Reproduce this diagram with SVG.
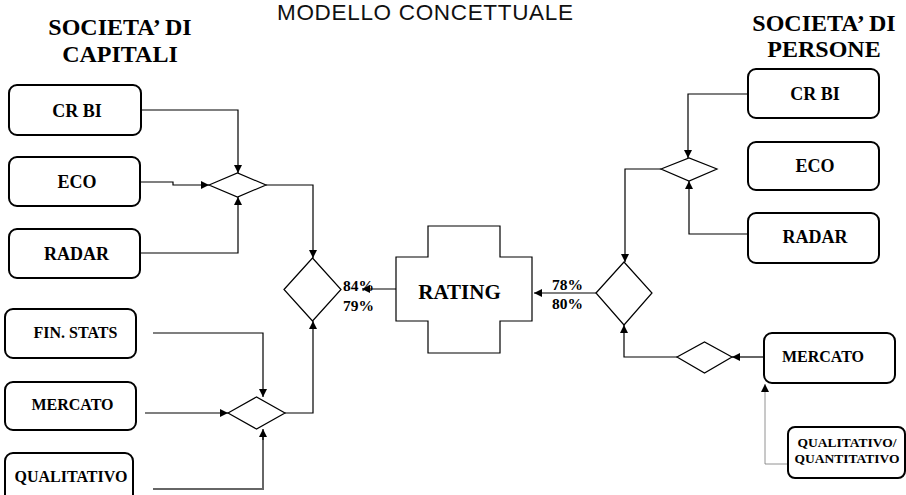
<svg xmlns="http://www.w3.org/2000/svg" width="906" height="495" viewBox="0 0 906 495">
<style>
.box{fill:#fff;stroke:#000;stroke-width:2}
.dia{fill:#fff;stroke:#000;stroke-width:1.2}
.lbl{font-family:"Liberation Serif","Times New Roman",serif;font-weight:bold;text-anchor:middle;fill:#000}
.l18{font-size:18px}
.l16{font-size:16px}
.hdr{font-family:"Liberation Serif","Times New Roman",serif;font-weight:bold;font-size:24px;text-anchor:middle;fill:#000}
.pct{font-family:"Liberation Serif","Times New Roman",serif;font-weight:bold;font-size:15.5px;fill:#000}
.ln{fill:none;stroke:#000;stroke-width:1.2}
.gry{fill:none;stroke:#666;stroke-width:2}
.dot{fill:none;stroke:#777;stroke-width:0.8}
</style>
<defs>
<marker id="ah" viewBox="0 0 10 10" refX="10" refY="5" markerWidth="8" markerHeight="8" markerUnits="userSpaceOnUse" orient="auto">
<path d="M0,0 L10,5 L0,10 Z" fill="#000"/>
</marker>
</defs>
<rect width="906" height="495" fill="#fff"/>

<text x="277" y="20" font-family="'Liberation Sans',Arial,sans-serif" font-size="22.5" textLength="296" lengthAdjust="spacing" fill="#111">MODELLO CONCETTUALE</text>

<g id="hdr-left">
<text class="hdr" x="120" y="35">SOCIETA’ DI</text>
<text class="hdr" x="120" y="62">CAPITALI</text>
</g>
<g id="hdr-right">
<text class="hdr" x="824" y="31" font-size="23.5">SOCIETA’ DI</text>
<text class="hdr" x="824" y="56.5" font-size="23">PERSONE</text>
</g>

<g id="connectors">
<polyline class="ln" points="141,110 238,110 238,173" marker-end="url(#ah)"/>
<polyline class="ln" points="140,182 173,182 173,185 209,185" marker-end="url(#ah)"/>
<polyline class="ln" points="140,253 238,253 238,197" marker-end="url(#ah)"/>
<polyline class="ln" points="266,185 313,185 313,258" marker-end="url(#ah)"/>
<polyline class="ln" points="153,333 263,333 263,397" marker-end="url(#ah)"/>
<polyline class="ln" points="145,413 228,413" marker-end="url(#ah)"/>
<polyline class="gry" points="153,489 263,489 263,432"/>
<polyline class="ln" points="263,440 263,429" marker-end="url(#ah)"/>
<polyline class="ln" points="285,413 313,413 313,321" marker-end="url(#ah)"/>
<line class="ln" x1="396" y1="289" x2="362" y2="289" marker-end="url(#ah)"/>
<line class="ln" x1="596" y1="293" x2="534" y2="293" marker-end="url(#ah)"/>
<polyline class="ln" points="748,94 688,94 688,158" marker-end="url(#ah)"/>
<polyline class="ln" points="750,234 689,234 689,181" marker-end="url(#ah)"/>
<polyline class="ln" points="661,169 625,169 625,262" marker-end="url(#ah)"/>
<polyline class="ln" points="764,357 732,357" marker-end="url(#ah)"/>
<polyline class="ln" points="677,357 624,357 624,325" marker-end="url(#ah)"/>
<polyline class="dot" points="788,464 765,464 765,384" marker-end="url(#ah)"/>
</g>

<g id="crbi-l"><rect class="box" x="9" y="85" width="132" height="50" rx="8"/><text class="lbl l18" x="77" y="117">CR BI</text></g>
<g id="eco-l"><rect class="box" x="9" y="157" width="131" height="49" rx="8"/><text class="lbl l18" x="77" y="188">ECO</text></g>
<g id="radar-l"><rect class="box" x="9" y="229" width="131" height="49" rx="8"/><text class="lbl l18" x="76.5" y="260">RADAR</text></g>
<g id="finstats"><rect class="box" x="5" y="309" width="131" height="49" rx="8"/><text class="lbl l16" x="75.5" y="338">FIN. STATS</text></g>
<g id="mercato-l"><rect class="box" x="5" y="382" width="131" height="48" rx="8"/><text class="lbl l16" x="72.5" y="410">MERCATO</text></g>
<g id="qual-l"><rect class="box" x="5" y="453" width="128" height="50" rx="8"/><text class="lbl l16" x="71" y="482">QUALITATIVO</text></g>

<g id="dia-l1"><polygon class="dia" points="209,185 237.5,173 266,185 237.5,197"/></g>
<g id="dia-l2"><polygon class="dia" points="228,413 256.5,397 285,413 256.5,429"/></g>
<g id="dia-l-big"><polygon class="dia" points="284,289.5 312.5,258 341,289.5 312.5,321"/></g>

<g id="rating">
<polygon fill="#fff" stroke="#000" stroke-width="1.2" points="428,226 500,226 500,257 532,257 532,321 500,321 500,353 428,353 428,321 396,321 396,257 428,257"/>
<text class="lbl" font-size="21" x="459.5" y="299">RATING</text>
</g>
<g id="pct-l"><text class="pct" x="343" y="291">84%</text><text class="pct" x="343" y="311">79%</text></g>
<g id="pct-r"><text class="pct" x="552" y="290">78%</text><text class="pct" x="552" y="309">80%</text></g>

<g id="dia-r-big"><polygon class="dia" points="596,293 624,262 652,293 624,325"/></g>
<g id="dia-r1"><polygon class="dia" points="661,169 689,158 717,169 689,181"/></g>
<g id="dia-r2"><polygon class="dia" points="677,357 704.5,342 732,357 704.5,373"/></g>

<g id="crbi-r"><rect class="box" x="748" y="69" width="131" height="49" rx="8"/><text class="lbl l18" x="815" y="100">CR BI</text></g>
<g id="eco-r"><rect class="box" x="748" y="142" width="131" height="48" rx="8"/><text class="lbl l18" x="815" y="172">ECO</text></g>
<g id="radar-r"><rect class="box" x="748" y="213" width="131" height="50" rx="8"/><text class="lbl l18" x="815" y="243">RADAR</text></g>
<g id="mercato-r"><rect class="box" x="764" y="333" width="131" height="50" rx="8"/><text class="lbl l16" x="823" y="362">MERCATO</text></g>
<g id="qualquant"><rect class="box" x="788" y="427" width="117" height="51" rx="7"/><text class="lbl" font-size="13.5" x="847" y="447">QUALITATIVO/</text><text class="lbl" font-size="13.5" x="847" y="463">QUANTITATIVO</text></g>
</svg>
